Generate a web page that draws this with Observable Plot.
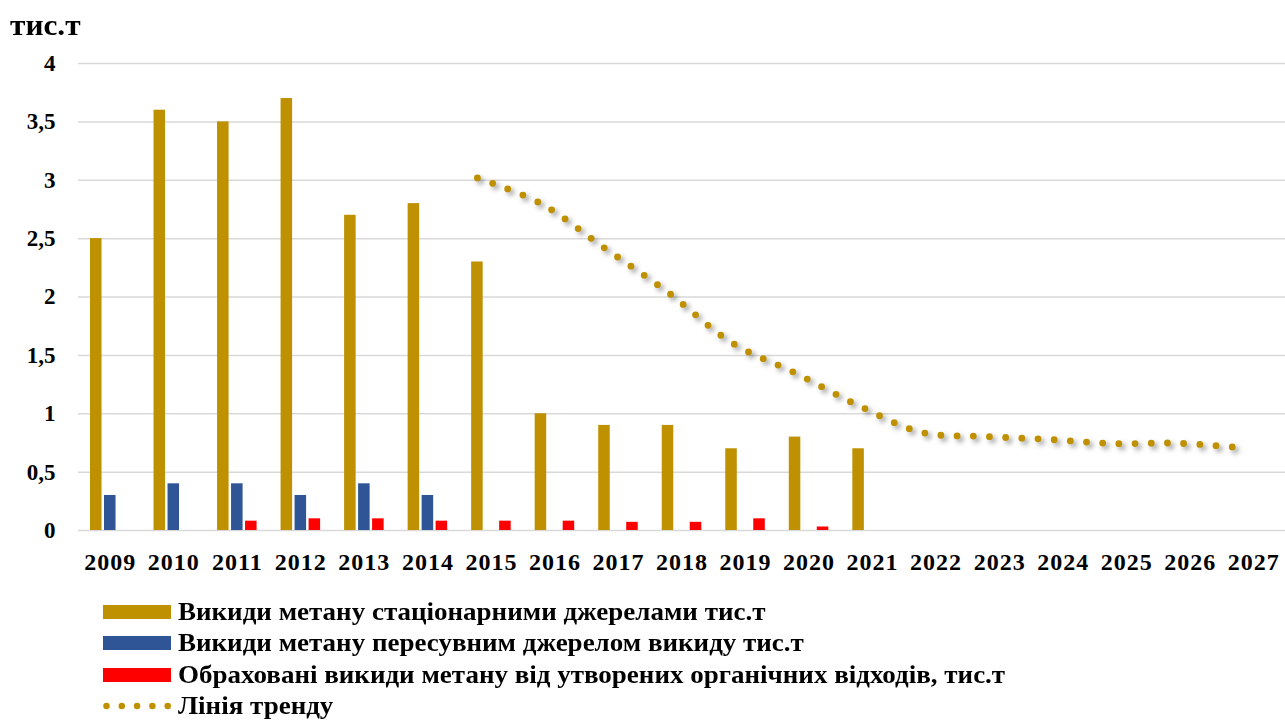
<!DOCTYPE html>
<html>
<head>
<meta charset="utf-8">
<script src="https://cdn.jsdelivr.net/npm/d3@7"></script>
<script src="https://cdn.jsdelivr.net/npm/@observablehq/plot@0.6"></script>
<style>
  body { margin: 0; background: #fff; font-family: "Liberation Serif", "Times New Roman", serif; }
  #wrap { position: relative; width: 1285px; height: 720px; overflow: hidden; }
  #chart { position: absolute; left: 0; top: 0; }
  #unit { position: absolute; left: 10px; top: 9px; font-weight: bold; font-size: 29px; transform: scaleX(1.08); transform-origin: left; }
  #legend { position: absolute; left: 103px; top: 596px; }
  .row { display: flex; align-items: center; height: 31.5px; white-space: nowrap; }
  .sw { width: 68px; height: 14px; flex: none; }
  .lbl { margin-left: 7px; font-weight: bold; font-size: 25px; transform: scaleX(1.08); transform-origin: left; color: #000; }
</style>
</head>
<body>
<div id="wrap">
  <div id="chart"></div>
  <div id="unit"></div>
  <div id="legend"></div>
</div>
<script>
// ---- data ----
const years = [2009, 2010, 2011, 2012, 2013, 2014, 2015, 2016, 2017, 2018, 2019, 2020, 2021, 2022, 2023, 2024, 2025, 2026, 2027];
const dataYears = [2009, 2010, 2011, 2012, 2013, 2014, 2015, 2016, 2017, 2018, 2019, 2020, 2021];
const stationary = [2.5, 3.6, 3.5, 3.7, 2.7, 2.8, 2.3, 1.0, 0.9, 0.9, 0.7, 0.8, 0.7];
const mobile = [0.3, 0.4, 0.4, 0.3, 0.4, 0.3, null, null, null, null, null, null, null];
const organic = [null, null, 0.08, 0.1, 0.1, 0.08, 0.08, 0.08, 0.07, 0.07, 0.1, 0.03, null];
const trendYears = [2015, 2016, 2017, 2018, 2019, 2020, 2021, 2022, 2023, 2024, 2025, 2026, 2027];
const trend = [3.02, 2.80, 2.42, 2.04, 1.61, 1.35, 1.07, 0.84, 0.805, 0.78, 0.745, 0.748, 0.71];
const yTicks = [0, 0.5, 1, 1.5, 2, 2.5, 3, 3.5, 4];
const seriesNames = [
  "Викиди метану стаціонарними джерелами тис.т",
  "Викиди метану пересувним джерелом викиду тис.т",
  "Обраховані викиди метану від утворених органічних відходів, тис.т",
  "Лінія тренду"
];
const unitLabel = "тис.т";
const colors = ["#BF9000", "#2F5597", "#FF0000"];

// ---- tables ----
const toRows = (vals) => dataYears.map((y, i) => ({year: y, v: vals[i]})).filter(d => d.v != null);
const rowsS = toRows(stationary);
const rowsM = toRows(mobile);
const rowsO = toRows(organic);
const rowsT = trendYears.map((y, i) => ({year: y, v: trend[i]}));

const inset = 26;
const chart = Plot.plot({
  width: 1285,
  height: 580,
  marginTop: 63,
  marginBottom: 50,
  marginLeft: 78,
  marginRight: 0,
  style: {fontFamily: "'Liberation Serif', 'Times New Roman', serif", fontSize: "23px", fontWeight: "bold", color: "#000", background: "transparent"},
  x: {domain: years, padding: 0, round: false, tickSize: 0, tickPadding: 22, tickFormat: d => String(d), label: null},
  y: {domain: [0, 4], ticks: yTicks, tickFormat: d => String(d).replace(".", ","), tickSize: 0, tickPadding: 23, label: null},
  marks: [
    Plot.ruleY(yTicks, {stroke: "#d9d9d9", strokeWidth: 1.5}),
    Plot.barY(rowsS, {x: "year", y: "v", fill: colors[0], dx: -14, insetLeft: inset, insetRight: inset}),
    Plot.barY(rowsM, {x: "year", y: "v", fill: colors[1], insetLeft: inset, insetRight: inset}),
    Plot.barY(rowsO, {x: "year", y: "v", fill: colors[2], dx: 14, insetLeft: inset, insetRight: inset}),
    Plot.line(rowsT, {x: "year", y: "v", dx: -14, stroke: colors[0], strokeWidth: 6.8, strokeDasharray: "0 16.2", strokeLinecap: "round", curve: "catmull-rom"})
  ]
});
d3.select(chart).selectAll('g[aria-label="line"] path')
  .style("filter", "drop-shadow(3px 3px 2.5px rgba(0,0,0,0.38))");
d3.select(chart).selectAll('g[aria-label="x-axis tick label"] text')
  .style("font-size", "24px").style("letter-spacing", "1px");
document.getElementById("chart").appendChild(chart);
document.getElementById("unit").textContent = unitLabel;

// ---- legend ----
const legend = d3.select("#legend");
seriesNames.forEach((name, i) => {
  const row = legend.append("div").attr("class", "row");
  if (i < 3) {
    row.append("div").attr("class", "sw").style("background", colors[i]);
  } else {
    const s = row.append("svg").attr("width", 68).attr("height", 14).style("flex", "none");
    s.append("line").attr("x1", 3.5).attr("x2", 65).attr("y1", 7).attr("y2", 7)
      .attr("stroke", colors[0]).attr("stroke-width", 6.5).attr("stroke-linecap", "round")
      .attr("stroke-dasharray", "0 15.3");
  }
  row.append("span").attr("class", "lbl").text(name);
});
</script>
</body>
</html>
